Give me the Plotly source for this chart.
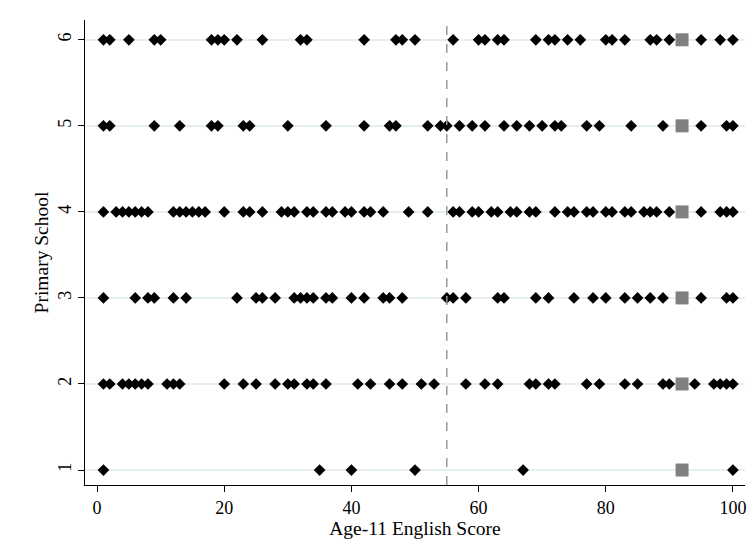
import plotly.graph_objects as go

schools = [1, 2, 3, 4, 5, 6]
scores_by_school = {
    1: [1, 35, 40, 50, 67, 100],
    2: [1, 2, 4, 5, 6, 7, 8, 11, 12, 13, 20, 23, 25, 28, 30, 31, 33, 34, 36, 41, 43, 46, 48,
        51, 53, 58, 61, 63, 68, 69, 71, 72, 77, 79, 83, 85, 89, 90, 94, 97, 98, 99, 100],
    3: [1, 6, 8, 9, 12, 14, 22, 25, 26, 28, 31, 32, 33, 34, 36, 37, 40, 42, 45, 46, 48,
        55, 56, 58, 63, 64, 69, 71, 75, 78, 80, 83, 85, 87, 89, 95, 99, 100],
    4: [1, 3, 4, 5, 6, 7, 8, 12, 13, 14, 15, 16, 17, 20, 23, 24, 26, 29, 30, 31, 33, 34, 36,
        37, 39, 40, 42, 43, 45, 49, 52, 56, 57, 59, 60, 62, 63, 65, 66, 68, 69, 72, 74, 75,
        77, 78, 80, 81, 83, 84, 86, 87, 88, 90, 95, 98, 99, 100],
    5: [1, 2, 9, 13, 18, 19, 23, 24, 30, 36, 42, 46, 47, 52, 54, 55, 57, 59, 61, 64, 66, 68,
        70, 72, 73, 77, 79, 84, 89, 95, 99, 100],
    6: [1, 2, 5, 9, 10, 18, 19, 20, 22, 26, 32, 33, 42, 47, 48, 50, 56, 60, 61, 63, 64, 69,
        71, 72, 74, 76, 80, 81, 83, 87, 88, 90, 95, 98, 100],
}
highlight_score = 92
cutoff = 55
x_ticks = [0, 20, 40, 60, 80, 100]

xs, ys = [], []
for s in schools:
    for v in scores_by_school[s]:
        xs.append(v)
        ys.append(s)

fig = go.Figure()
fig.add_trace(go.Scatter(
    x=xs, y=ys, mode="markers",
    marker=dict(symbol="diamond", size=9, color="black"),
    showlegend=False, hoverinfo="x+y", cliponaxis=False))
fig.add_trace(go.Scatter(
    x=[highlight_score] * len(schools), y=schools, mode="markers",
    marker=dict(symbol="square", size=13, color="#808080"),
    showlegend=False, hoverinfo="x+y"))

fig.add_vline(x=cutoff, line=dict(color="#9a9a9a", width=1.5, dash="dash"))

font = "Liberation Serif, Times New Roman, serif"
fig.update_layout(
    width=751, height=542,
    margin=dict(l=85, r=6, t=20, b=57),
    paper_bgcolor="white", plot_bgcolor="white",
    font=dict(family=font, size=18, color="black"),
    xaxis=dict(range=[-1.9, 101.9], tickvals=x_ticks, showgrid=False, zeroline=False,
               showline=True, linecolor="black", linewidth=1,
               ticks="outside", ticklen=6, tickcolor="black",
               title=dict(text="Age-11 English Score", font=dict(size=19.5), standoff=0)),
    yaxis=dict(range=[0.826, 6.23], tickvals=schools, showgrid=True,
               gridcolor="#E6EFF0", gridwidth=1.5, zeroline=False,
               showline=True, linecolor="black", linewidth=1,
               ticks="outside", ticklen=6, tickcolor="black", tickangle=-90,
               title=dict(text="Primary School", font=dict(size=19.5), standoff=0)),
)

fig.write_html("out.html", config={"displayModeBar": False},
               post_script="document.body.style.margin='0px';")
